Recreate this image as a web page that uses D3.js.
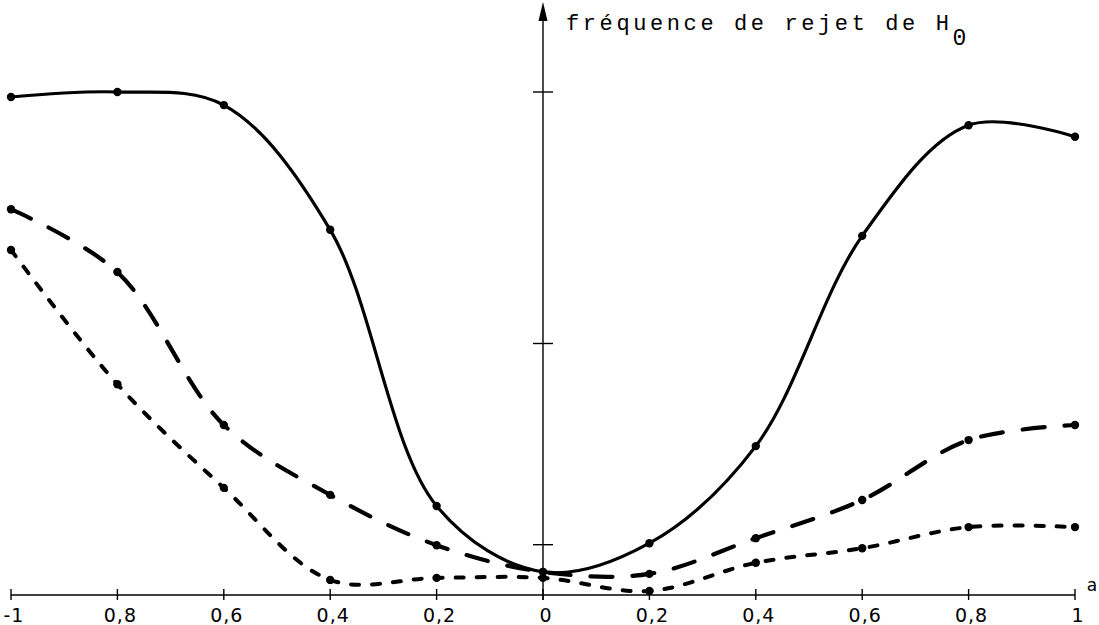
<!DOCTYPE html>
<html>
<head>
<meta charset="utf-8">
<script src="https://cdn.jsdelivr.net/npm/d3@7"></script>
<style>
  body { margin: 0; background: #fff; }
</style>
</head>
<body>
<script>
// values of a
var aValues = [-1, -0.8, -0.6, -0.4, -0.2, 0, 0.2, 0.4, 0.6, 0.8, 1];
var tickLabels = ["-1", "0,8", "0,6", "0,4", "0,2", "0", "0,2", "0,4", "0,6", "0,8", "1"];
// rejection frequency, one array per curve
var solid  = [0.99, 1.0, 0.974, 0.726, 0.177, 0.046, 0.103, 0.296, 0.714, 0.934, 0.911];
var dashed = [0.767, 0.642, 0.338, 0.199, 0.099, 0.046, 0.042, 0.113, 0.189, 0.308, 0.338];
var dotted = [0.686, 0.419, 0.213, 0.030, 0.034, 0.034, 0.008, 0.064, 0.093, 0.135, 0.135];
var yTicks = [0.1, 0.5, 1];

var svgWidth = 1099,
    svgHeight = 625;

var svg = d3.select('body').append('svg')
    .attr("width", svgWidth)
    .attr("height", svgHeight);

var x = d3.scaleLinear()
    .domain([-1, 1])
    .range([11, 1075]);
var y = d3.scaleLinear()
    .domain([0, 1])
    .range([595, 92]);

// horizontal axis
svg.append("line")
    .attr("x1", x(-1)).attr("x2", x(1))
    .attr("y1", y(0)).attr("y2", y(0))
    .attr("stroke", "#000")
    .attr("stroke-width", 1.6);

svg.selectAll(".xtick")
    .data(aValues)
    .enter().append("line")
    .attr("class", "xtick")
    .attr("x1", d => x(d)).attr("x2", d => x(d))
    .attr("y1", y(0) - 6).attr("y2", y(0) + 5)
    .attr("stroke", "#000")
    .attr("stroke-width", 1.4);

svg.selectAll(".xlabel")
    .data(aValues)
    .enter().append("text")
    .attr("class", "xlabel")
    .attr("x", d => x(d) + 3)
    .attr("y", 622)
    .attr("text-anchor", "middle")
    .attr("font-family", "DejaVu Sans")
    .attr("font-size", 19)
    .attr("letter-spacing", "1px")
    .attr("fill", "#000")
    .text((d, i) => tickLabels[i]);

svg.append("text")
    .attr("x", 1092)
    .attr("y", 591)
    .attr("text-anchor", "middle")
    .attr("font-family", "DejaVu Sans")
    .attr("font-size", 17)
    .text("a");

// vertical axis with arrow
svg.append("line")
    .attr("x1", x(0)).attr("x2", x(0))
    .attr("y1", y(0) + 5).attr("y2", 12)
    .attr("stroke", "#000")
    .attr("stroke-width", 1.4);
svg.append("path")
    .attr("d", "M" + x(0) + ",2 L" + (x(0) - 4.5) + ",21 L" + (x(0) + 4.5) + ",21 Z")
    .attr("fill", "#000");

svg.selectAll(".ytick")
    .data(yTicks)
    .enter().append("line")
    .attr("class", "ytick")
    .attr("x1", x(0) - 10).attr("x2", x(0) + 10)
    .attr("y1", d => y(d)).attr("y2", d => y(d))
    .attr("stroke", "#000")
    .attr("stroke-width", 1.4);

// axis title
var title = svg.append("text")
    .attr("x", 566)
    .attr("y", 30)
    .attr("font-family", "Liberation Mono")
    .attr("font-size", 22)
    .attr("letter-spacing", "3.6px")
    .attr("fill", "#000");
title.append("tspan").text("fréquence de rejet de H");
title.append("tspan")
    .attr("dy", 15)
    .attr("font-size", 23)
    .text("0");

// curves
var curves = [
    {values: solid,  width: 3.2, dash: null},
    {values: dashed, width: 4.2, dash: "22,20"},
    {values: dotted, width: 4, dash: "8,13"}
];

var line = d3.line()
    .x(d => x(d[0]))
    .y(d => y(d[1]))
    .curve(d3.curveCatmullRom.alpha(0.5));

curves.forEach(function(c) {
    var pts = aValues.map((a, i) => [a, c.values[i]]);
    svg.append("path")
        .datum(pts)
        .attr("fill", "none")
        .attr("stroke", "#000")
        .attr("stroke-width", c.width)
        .attr("stroke-linecap", "round")
        .attr("stroke-linejoin", "round")
        .attr("stroke-dasharray", c.dash)
        .attr("d", line);
    svg.append("g")
        .selectAll("circle")
        .data(pts)
        .enter().append("circle")
        .attr("cx", d => x(d[0]))
        .attr("cy", d => y(d[1]))
        .attr("r", 4.2)
        .attr("fill", "#000");
});
</script>
</body>
</html>
